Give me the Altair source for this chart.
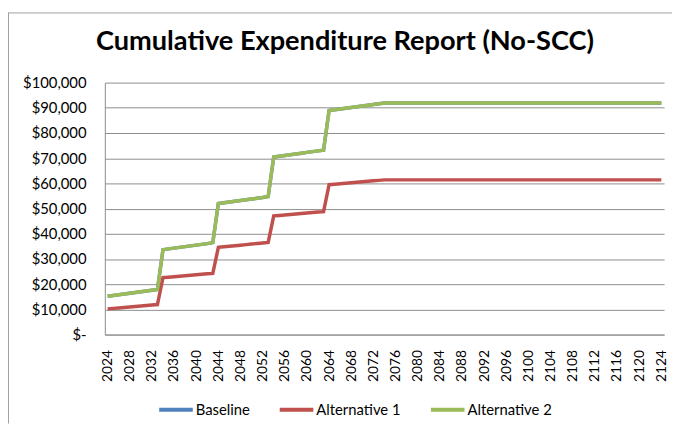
import altair as alt
import pandas as pd

# ---------------- data ----------------
years = list(range(2024, 2125))

alternative_1 = [
    10200, 10390, 10580, 10770, 10960, 11150, 11340, 11530, 11720, 11900,
    22600, 22790, 22980, 23170, 23360, 23550, 23740, 23930, 24120, 24300,
    34600, 34820, 35040, 35260, 35480, 35700, 35920, 36140, 36360, 36600,
    47100, 47290, 47480, 47670, 47860, 48050, 48240, 48430, 48620, 48800,
    59500, 59690, 59880, 60070, 60260, 60450, 60640, 60830, 61020, 61210, 61400,
    61400, 61400, 61400, 61400, 61400, 61400, 61400, 61400, 61400, 61400,
    61400, 61400, 61400, 61400, 61400, 61400, 61400, 61400, 61400, 61400,
    61400, 61400, 61400, 61400, 61400, 61400, 61400, 61400, 61400, 61400,
    61400, 61400, 61400, 61400, 61400, 61400, 61400, 61400, 61400, 61400,
    61400, 61400, 61400, 61400, 61400, 61400, 61400, 61400, 61400, 61400,
]

alternative_2 = [
    15200, 15500, 15800, 16100, 16400, 16700, 17000, 17300, 17600, 17900,
    33700, 34000, 34300, 34600, 34900, 35200, 35500, 35800, 36100, 36500,
    52000, 52300, 52600, 52900, 53200, 53500, 53800, 54100, 54400, 54800,
    70500, 70800, 71100, 71400, 71700, 72000, 72300, 72600, 72900, 73200,
    88900, 89200, 89500, 89800, 90100, 90400, 90700, 91000, 91300, 91600, 91900,
    91900, 91900, 91900, 91900, 91900, 91900, 91900, 91900, 91900, 91900,
    91900, 91900, 91900, 91900, 91900, 91900, 91900, 91900, 91900, 91900,
    91900, 91900, 91900, 91900, 91900, 91900, 91900, 91900, 91900, 91900,
    91900, 91900, 91900, 91900, 91900, 91900, 91900, 91900, 91900, 91900,
    91900, 91900, 91900, 91900, 91900, 91900, 91900, 91900, 91900, 91900,
]

# Baseline coincides with Alternative 2 (fully hidden beneath the green line)
baseline = list(alternative_2)

series_names = ["Baseline", "Alternative 1", "Alternative 2"]
series_colors = ["#4F81BD", "#C0504D", "#9BBB59"]
x_ticks = [2024, 2028, 2032, 2036, 2040, 2044, 2048, 2052, 2056, 2060, 2064,
           2068, 2072, 2076, 2080, 2084, 2088, 2092, 2096, 2100, 2104, 2108,
           2112, 2116, 2120, 2124]
y_ticks = [0, 10000, 20000, 30000, 40000, 50000, 60000, 70000, 80000, 90000, 100000]

rows = []
for name, vals in zip(series_names, [baseline, alternative_1, alternative_2]):
    for yr, v in zip(years, vals):
        rows.append({"Year": yr, "Series": name, "Cost": v})
df = pd.DataFrame(rows)

FONT = "Lato"
GRID = "#8c8c8c"

x_enc = alt.X(
    "Year:Q",
    scale=alt.Scale(domain=[2023.5, 2124.5], nice=False, zero=False),
    axis=alt.Axis(values=x_ticks, format="d", labelAngle=-90, ticks=False, grid=False,
                  domainColor=GRID, labelPadding=15, labelFontSize=14, labelFont=FONT,
                  labelColor="#000000", labelOverlap=False, labelBound=False,
                  labelFlush=False, title=None),
)
y_enc = alt.Y(
    "Cost:Q",
    scale=alt.Scale(domain=[0, 100000], nice=False),
    axis=alt.Axis(values=y_ticks,
                  labelExpr="datum.value == 0 ? '$-\u00a0\u00a0\u00a0' : '$' + format(datum.value, ',')",
                  ticks=False, grid=True, gridColor=GRID, domainColor=GRID,
                  labelPadding=19, labelFontSize=15, labelFont=FONT,
                  labelColor="#000000", title=None),
)
color_enc = alt.Color(
    "Series:N",
    scale=alt.Scale(domain=series_names, range=series_colors),
    legend=alt.Legend(title=None, orient="none", direction="horizontal",
                      legendX=53, legendY=312, symbolType="stroke", symbolSize=1156,
                      symbolStrokeWidth=4, columnPadding=22, labelOffset=1,
                      labelFontSize=15, labelFont=FONT, labelColor="#000000"),
)

base = alt.Chart(df).encode(x=x_enc, y=y_enc, color=color_enc)
lines = [base.transform_filter(alt.datum.Series == n).mark_line(strokeWidth=3.5)
         for n in series_names]

frame_df = pd.DataFrame({"k": [0]})
border_left = alt.Chart(frame_df).mark_rule(color="#a0a0a0", strokeWidth=1).encode(
    x=alt.value(-97.5), y=alt.value(-71), y2=alt.value(345))
border_top = alt.Chart(frame_df).mark_rule(color="#a0a0a0", strokeWidth=1).encode(
    x=alt.value(-97.5), x2=alt.value(574), y=alt.value(-70.5))

chart = alt.layer(border_left, border_top, *lines).properties(
    width=566,
    height=255,
    title=alt.TitleParams("Cumulative Expenditure Report (No-SCC)", font=FONT,
                          fontSize=27.5, fontWeight="bold", anchor="middle",
                          frame="group", dx=-40, offset=-66, baseline="alphabetic",
                          color="#000000"),
    autosize=alt.AutoSizeParams(type="none"),
    padding={"left": 98, "top": 73, "right": 8, "bottom": 89},
).configure_view(stroke=None)

chart.save("out.html", embed_options={"renderer": "svg", "actions": False})
